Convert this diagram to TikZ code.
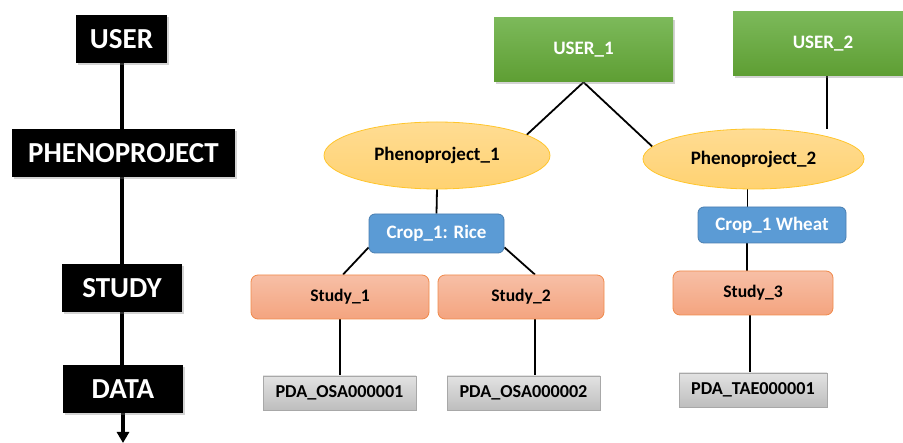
\documentclass[tikz,border=0pt]{standalone}
\usepackage{fontspec}
\setmainfont{Carlito}
\usetikzlibrary{shapes.geometric,shadows,arrows.meta,backgrounds}
\definecolor{gtop}{HTML}{7CB95A}
\definecolor{gbot}{HTML}{5E9E33}
\definecolor{ptop}{HTML}{FFDC93}
\definecolor{pbot}{HTML}{FFD271}
\definecolor{pbord}{HTML}{FFC52B}
\definecolor{cblue}{HTML}{5B9BD5}
\definecolor{cbord}{HTML}{4A7EB0}
\definecolor{stop}{HTML}{F7BFA6}
\definecolor{sbot}{HTML}{F4A47F}
\definecolor{sbord}{HTML}{F08A4B}
\definecolor{dtop}{HTML}{E2E2E2}
\definecolor{dbot}{HTML}{BEBEBE}
\definecolor{dbord}{HTML}{A8A8A8}
\tikzset{
  levelbox/.style={fill=black, text=white, font=\bfseries\fontsize{29}{31}\selectfont,
    inner sep=0pt, drop shadow={opacity=0.35, shadow xshift=2pt, shadow yshift=-2pt}},
  userbox/.style={top color=gtop, bottom color=gbot, draw=none, text=white,
    font=\bfseries\fontsize{19}{21}\selectfont, inner sep=0pt,
    drop shadow={opacity=0.35, shadow xshift=1.5pt, shadow yshift=-2pt}},
  phenonode/.style={ellipse, top color=ptop, bottom color=pbot, draw=pbord, line width=0.8pt,
    text=black, font=\bfseries\fontsize{19}{21}\selectfont, inner sep=0pt},
  cropbox/.style={rounded corners=6pt, fill=cblue, draw=cbord, line width=0.8pt, text=white,
    font=\bfseries\fontsize{19}{21}\selectfont, inner sep=0pt},
  studybox/.style={rounded corners=7pt, top color=stop, bottom color=sbot, draw=sbord, line width=0.8pt,
    text=black, font=\bfseries\fontsize{17.6}{19}\selectfont, inner sep=0pt},
  databox/.style={top color=dtop, bottom color=dbot, draw=dbord, line width=0.8pt,
    text=black, font=\bfseries\fontsize{18.2}{20}\selectfont, inner sep=0pt},
  lvlline/.style={line width=3.2pt, black},
  treeline/.style={line width=1.8pt, black},
}
\begin{document}
\begin{tikzpicture}[x=1pt,y=-1pt]
\useasboundingbox (0,0) rectangle (903,443);
% left column
\node[levelbox, minimum width=91pt, minimum height=48pt] (lu) at (121.5,39) {USER};
\node[levelbox, minimum width=223pt, minimum height=48pt] (lp) at (123.5,153) {PHENOPROJECT};
\node[levelbox, minimum width=120pt, minimum height=48pt] (ls) at (122,288) {STUDY};
\node[levelbox, minimum width=120pt, minimum height=48pt] (ld) at (123,389) {DATA};
\coordinate (lend) at (123,443);
% right tree
\node[userbox, minimum width=179pt, minimum height=64pt] (u1) at (583.5,50) {USER\_1};
\node[userbox, minimum width=180pt, minimum height=64pt] (u2) at (823,44) {USER\_2};
\node[phenonode, minimum width=226pt, minimum height=67pt] (p1) at (437,155.5) {Phenoproject\_1};
\node[phenonode, minimum width=221pt, minimum height=60pt] (p2) at (753.5,159) {Phenoproject\_2};
\node[cropbox, minimum width=135pt, minimum height=39pt] (c1) at (436.5,233.5) {Crop\_1: Rice};
\node[cropbox, minimum width=148pt, minimum height=36pt] (c2) at (772,225) {Crop\_1 Wheat};
\node[studybox, minimum width=178pt, minimum height=44pt] (s1) at (340,297) {Study\_1};
\node[studybox, minimum width=166pt, minimum height=44pt] (s2) at (521,297) {Study\_2};
\node[studybox, minimum width=160pt, minimum height=44pt] (s3) at (753,293) {Study\_3};
\node[databox, minimum width=153pt, minimum height=34pt] (d1) at (339.5,393) {PDA\_OSA000001};
\node[databox, minimum width=153pt, minimum height=34pt] (d2) at (523.5,393) {PDA\_OSA000002};
\node[databox, minimum width=148pt, minimum height=34pt] (d3) at (753,390) {PDA\_TAE000001};
\begin{scope}[on background layer]
  \draw[lvlline] ([xshift=0.5pt]lu.south) -- ([xshift=0.5pt]lu.south |- lp.north);
  \draw[lvlline] ([xshift=-1.5pt]lp.south) -- ([xshift=-1.5pt]lp.south |- ls.north);
  \draw[lvlline] (ls.south) -- (ls.south |- ld.north);
  \draw[lvlline, -{Triangle[length=11pt,width=12pt]}] (ld.south) -- (lend);
  \draw[treeline] (u1.south) -- (p1.13);
  \draw[treeline] (u1.south) -- (p2.173);
  \draw[treeline] ([xshift=4pt]u2.south) -- ([xshift=4pt]u2.south |- p2.north);
  \draw[treeline] (p1.south) -- (c1.north);
  \draw[treeline] ([yshift=6pt]c1.south west) -- ([xshift=3pt]s1.north);
  \draw[treeline] ([yshift=6pt]c1.south east) -- ([xshift=14pt]s2.north);
  \draw[treeline] (s1.south) -- (s1.south |- d1.north);
  \draw[treeline] ([xshift=14pt]s2.south) -- ([xshift=14pt]s2.south |- d2.north);
  \draw[treeline] ([xshift=-6pt]p2.south) -- ([xshift=-6pt]p2.south |- c2.north);
  \draw[treeline] ([xshift=-25pt]c2.south) -- ([xshift=-25pt]c2.south |- s3.north);
  \draw[treeline] ([xshift=-3pt]s3.south) -- ([xshift=-3pt]s3.south |- d3.north);
\end{scope}
\end{tikzpicture}
\end{document}
